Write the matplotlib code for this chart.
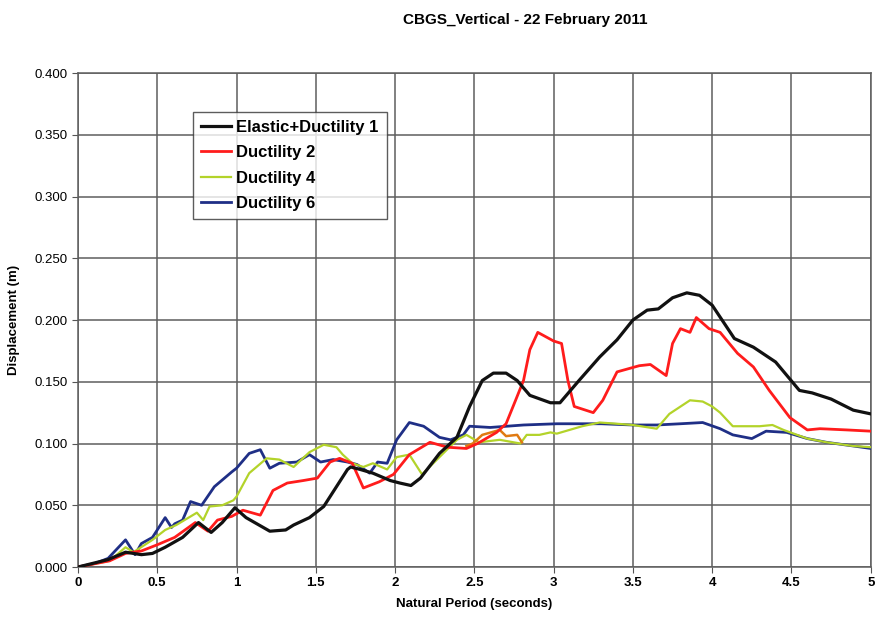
import matplotlib
matplotlib.use("Agg")
import matplotlib.pyplot as plt

plt.rcParams['font.family'] = ['Liberation Sans', 'DejaVu Sans']

# 曲线数据
t_el = [0, 0.19, 0.30, 0.40, 0.47, 0.55, 0.66, 0.76, 0.84, 0.91, 0.99, 1.06, 1.21, 1.31, 1.36,
        1.46, 1.55, 1.63, 1.70, 1.72, 1.78, 1.86, 1.97, 2.03, 2.10, 2.16, 2.28, 2.39, 2.47, 2.55,
        2.62, 2.70, 2.77, 2.85, 2.98, 3.04, 3.16, 3.29, 3.40, 3.50, 3.59, 3.66, 3.75, 3.84, 3.92,
        4.00, 4.14, 4.26, 4.40, 4.55, 4.63, 4.75, 4.89, 5.0]
d_el = [0, 0.006, 0.012, 0.010, 0.011, 0.016, 0.024, 0.036, 0.028, 0.036, 0.048, 0.040, 0.029,
        0.030, 0.034, 0.040, 0.049, 0.065, 0.079, 0.081, 0.079, 0.076, 0.070, 0.068, 0.066, 0.072,
        0.092, 0.105, 0.130, 0.151, 0.157, 0.157, 0.151, 0.139, 0.133, 0.133, 0.151, 0.170, 0.184,
        0.200, 0.208, 0.209, 0.218, 0.222, 0.220, 0.212, 0.185, 0.178, 0.166, 0.143, 0.141, 0.136,
        0.127, 0.124]

t_d2 = [0, 0.20, 0.30, 0.40, 0.50, 0.61, 0.74, 0.82, 0.88, 0.97, 1.04, 1.15, 1.23, 1.32, 1.42,
        1.51, 1.59, 1.65, 1.73, 1.80, 1.90, 1.99, 2.09, 2.22, 2.33, 2.45, 2.52, 2.64, 2.70, 2.76,
        2.81, 2.85, 2.90, 3.00, 3.05, 3.09, 3.13, 3.25, 3.31, 3.40, 3.54, 3.61, 3.71, 3.75, 3.80,
        3.86, 3.90, 3.98, 4.05, 4.16, 4.26, 4.36, 4.49, 4.60, 4.68, 4.85, 5.0]
d_d2 = [0, 0.005, 0.011, 0.013, 0.018, 0.024, 0.036, 0.029, 0.038, 0.041, 0.046, 0.042, 0.062,
        0.068, 0.070, 0.072, 0.085, 0.088, 0.084, 0.064, 0.069, 0.075, 0.091, 0.101, 0.097, 0.096,
        0.100, 0.109, 0.116, 0.135, 0.151, 0.176, 0.190, 0.183, 0.181, 0.151, 0.130, 0.125, 0.135,
        0.158, 0.163, 0.164, 0.155, 0.181, 0.193, 0.190, 0.202, 0.193, 0.190, 0.173, 0.162, 0.143,
        0.121, 0.111, 0.112, 0.111, 0.110]

t_d4 = [0, 0.20, 0.30, 0.35, 0.47, 0.55, 0.62, 0.75, 0.79, 0.83, 0.91, 0.98, 1.00, 1.08, 1.19,
        1.27, 1.36, 1.46, 1.55, 1.63, 1.67, 1.73, 1.80, 1.86, 1.95, 2.01, 2.09, 2.17, 2.28, 2.39,
        2.45, 2.53, 2.66, 2.79, 2.83, 2.91, 2.98, 3.02, 3.18, 3.29, 3.40, 3.50, 3.65, 3.73, 3.86,
        3.94, 4.00, 4.05, 4.13, 4.30, 4.38, 4.45, 4.60, 4.72, 4.89, 5.0]
d_d4 = [0, 0.005, 0.016, 0.012, 0.022, 0.030, 0.034, 0.044, 0.038, 0.049, 0.050, 0.054, 0.057,
        0.076, 0.088, 0.087, 0.081, 0.093, 0.099, 0.097, 0.091, 0.084, 0.081, 0.084, 0.079, 0.089,
        0.091, 0.075, 0.089, 0.103, 0.107, 0.101, 0.103, 0.100, 0.107, 0.107, 0.109, 0.108, 0.114,
        0.117, 0.116, 0.115, 0.112, 0.124, 0.135, 0.134, 0.130, 0.125, 0.114, 0.114, 0.115, 0.111,
        0.104, 0.101, 0.098, 0.097]

t_d6 = [0, 0.11, 0.19, 0.30, 0.36, 0.40, 0.47, 0.55, 0.59, 0.61, 0.66, 0.71, 0.78, 0.86, 0.97,
        1.00, 1.08, 1.15, 1.21, 1.27, 1.38, 1.46, 1.53, 1.61, 1.70, 1.76, 1.84, 1.89, 1.95, 2.01,
        2.09, 2.18, 2.28, 2.35, 2.43, 2.47, 2.60, 2.81, 3.02, 3.30, 3.50, 3.65, 3.80, 3.94, 4.05,
        4.13, 4.25, 4.34, 4.47, 4.60, 4.72, 4.89, 5.0]
d_d6 = [0, 0.003, 0.007, 0.022, 0.010, 0.019, 0.024, 0.040, 0.032, 0.035, 0.038, 0.053, 0.050,
        0.065, 0.077, 0.080, 0.092, 0.095, 0.080, 0.084, 0.085, 0.091, 0.085, 0.087, 0.085, 0.083,
        0.076, 0.085, 0.084, 0.103, 0.117, 0.114, 0.105, 0.103, 0.107, 0.114, 0.113, 0.115, 0.116,
        0.116, 0.115, 0.115, 0.116, 0.117, 0.112, 0.107, 0.104, 0.110, 0.109, 0.104, 0.101, 0.098,
        0.096]

# 图例里没有的橙色短线
t_or = [2.45, 2.49, 2.55, 2.66, 2.70, 2.77, 2.80]
d_or = [0.098, 0.100, 0.107, 0.111, 0.106, 0.107, 0.101]

fig = plt.figure(figsize=(8.76, 6.22), dpi=100)
ax = fig.add_axes([0.089, 0.0884, 0.905, 0.7942])

ax.plot(t_d6, d_d6, color='#1f2f86', lw=2.0, label='Ductility 6', zorder=3)
ax.plot(t_d4, d_d4, color='#b3d32a', lw=1.6, label='Ductility 4', zorder=4)
ax.plot(t_or, d_or, color='#e07a12', lw=1.8, label='_nolegend_', zorder=4)
ax.plot(t_d2, d_d2, color='#ff1c1c', lw=2.0, label='Ductility 2', zorder=5)
ax.plot(t_el, d_el, color='#111111', lw=2.3, label='Elastic+Ductility 1', zorder=6)

ax.set_xlim(0, 5)
ax.set_ylim(0, 0.4)
ax.set_xticks([0, 0.5, 1, 1.5, 2, 2.5, 3, 3.5, 4, 4.5, 5])
ax.set_xticklabels(['0', '0.5', '1', '1.5', '2', '2.5', '3', '3.5', '4', '4.5', '5'],
                   fontweight='bold')
ax.set_yticks([i * 0.05 for i in range(9)])
ax.set_yticklabels([f'{i * 0.05:.3f}' for i in range(9)])
ax.tick_params(axis='both', labelsize=9.5, length=4, color='#555555')
ax.grid(True, color='#5e5e5e', lw=1.1)
for s in ax.spines.values():
    s.set_color('#5e5e5e')
    s.set_linewidth(1.1)

ax.set_xlabel('Natural Period (seconds)', fontsize=9.5, fontweight='bold', labelpad=6)
ax.set_ylabel('Displacement (m)', fontsize=9.5, fontweight='bold', labelpad=10)
fig.text(0.60, 0.968, 'CBGS_Vertical - 22 February 2011', ha='center', va='center',
         fontsize=11, fontweight='bold')

h, l = ax.get_legend_handles_labels()
order = [3, 2, 1, 0]
leg = ax.legend([h[i] for i in order], [l[i] for i in order], loc='upper left',
                bbox_to_anchor=(0.145, 0.922), frameon=True, fancybox=False,
                prop={'weight': 'bold', 'size': 12}, handlelength=1.8,
                handletextpad=0.3, labelspacing=0.62, borderpad=0.5, borderaxespad=0)
leg.get_frame().set_edgecolor('#333333')
leg.get_frame().set_linewidth(1.0)

fig.savefig('out.png', dpi=100)
